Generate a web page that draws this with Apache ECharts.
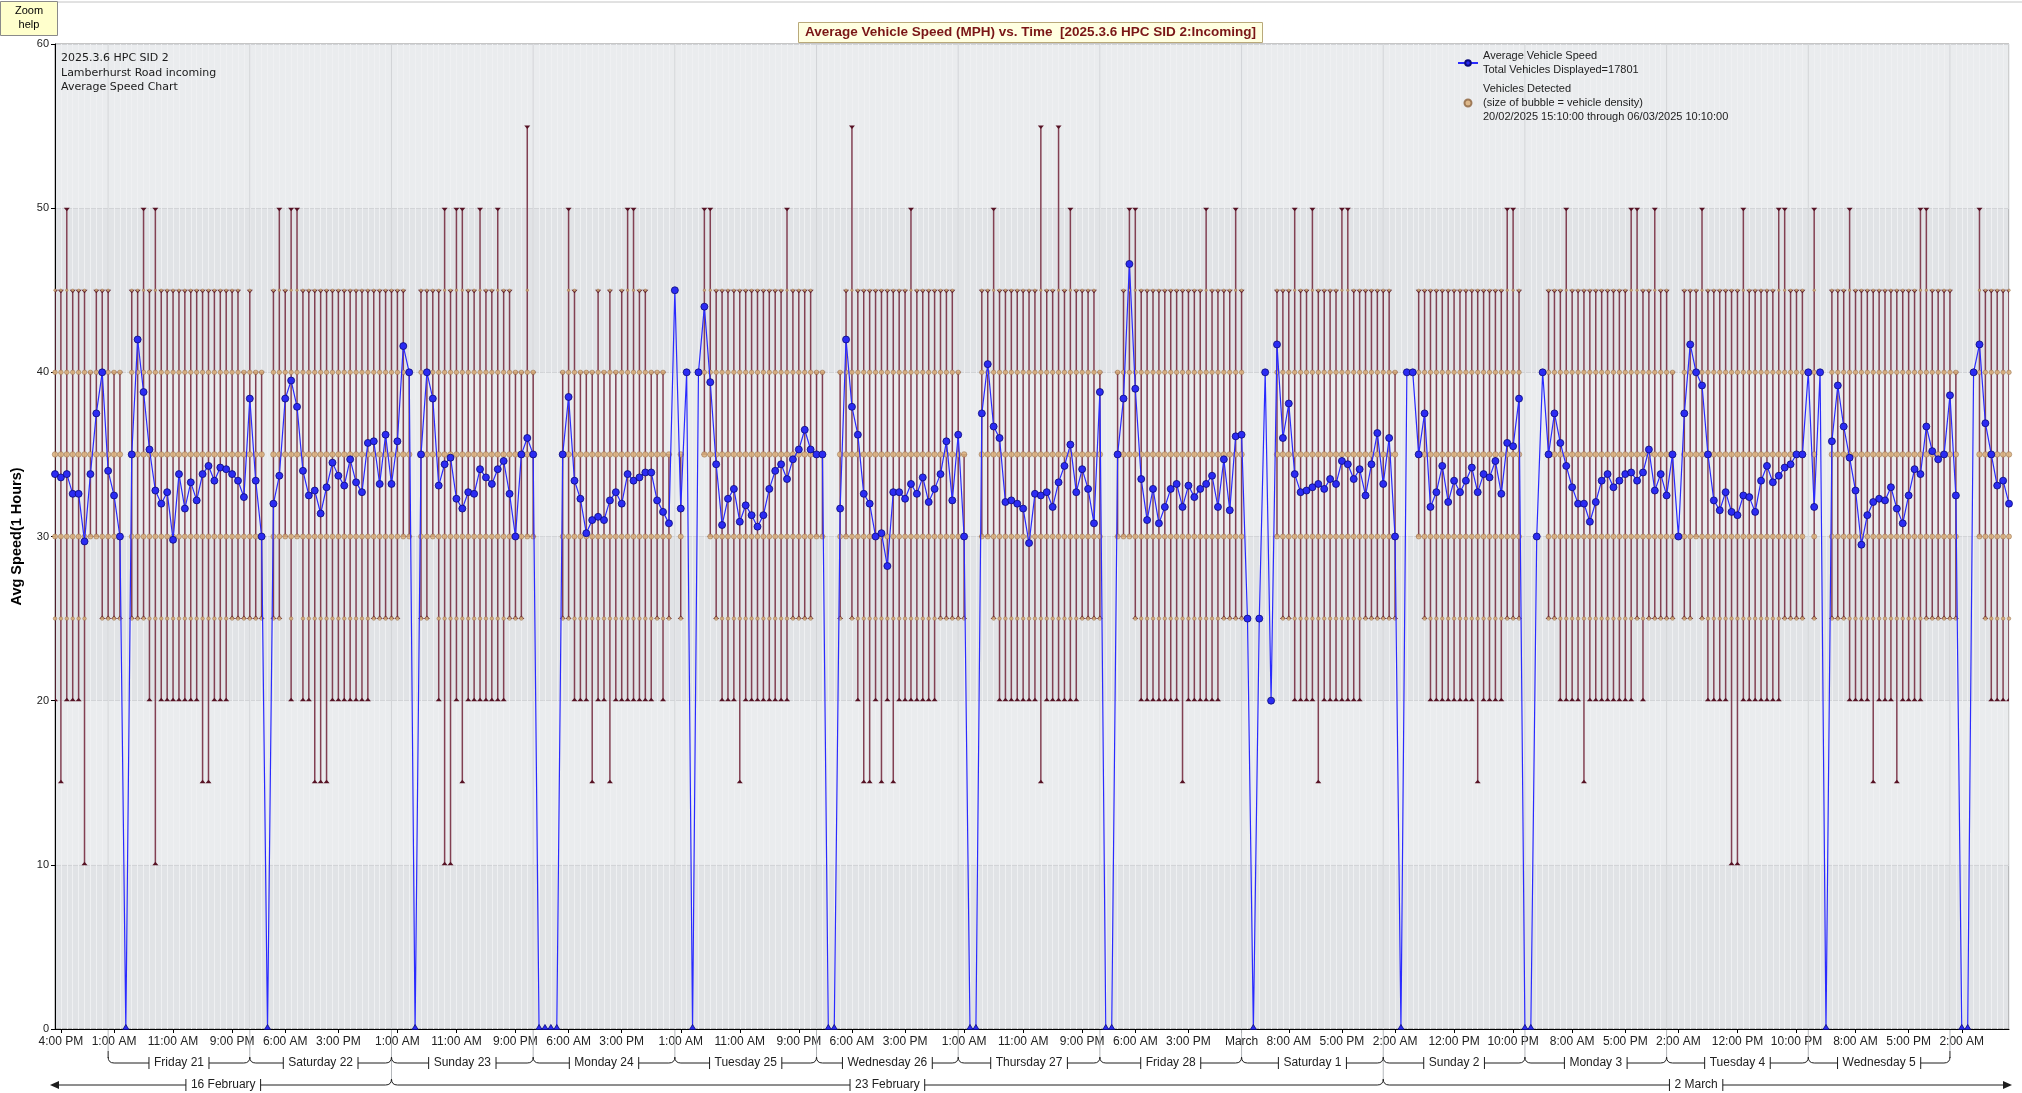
<!DOCTYPE html>
<html><head><meta charset="utf-8"><title>Average Vehicle Speed</title>
<script src="https://cdn.jsdelivr.net/npm/echarts@6.0.0/dist/echarts.min.js"></script>
<style>html,body{margin:0;padding:0;background:#fff;}#chart{width:2022px;height:1093px;}</style>
</head><body><div id="chart"></div>
<script>
// ---------- DATA (hourly buckets from 20/02/2025 15:00) ----------
const avgSpeed = [
33.8,33.6,33.8,32.6,32.6,29.7,33.8,37.5,40.0,34.0,32.5,30.0,0,35.0,42.0,38.8,35.3,32.8,32.0,32.7,
29.8,33.8,31.7,33.3,32.2,33.8,34.3,33.4,34.2,34.1,33.8,33.4,32.4,38.4,33.4,30.0,0,32.0,33.7,38.4,
39.5,37.9,34.0,32.5,32.8,31.4,33.0,34.5,33.7,33.1,34.7,33.3,32.7,35.7,35.8,33.2,36.2,33.2,35.8,41.6,
40.0,0,35.0,40.0,38.4,33.1,34.4,34.8,32.3,31.7,32.7,32.6,34.1,33.6,33.2,34.1,34.6,32.6,30.0,35.0,
36.0,35.0,0,0,0,0,35.0,38.5,33.4,32.3,30.2,31.0,31.2,31.0,32.2,32.7,32.0,33.8,33.4,33.6,
33.9,33.9,32.2,31.5,30.8,45.0,31.7,40.0,0,40.0,44.0,39.4,34.4,30.7,32.3,32.9,30.9,31.9,31.3,30.6,
31.3,32.9,34.0,34.4,33.5,34.7,35.3,36.5,35.3,35.0,35.0,0,0,31.7,42.0,37.9,36.2,32.6,32.0,30.0,
30.2,28.2,32.7,32.7,32.3,33.2,32.6,33.6,32.1,32.9,33.8,35.8,32.2,36.2,30.0,0,0,37.5,40.5,36.7,
36.0,32.1,32.2,32.0,31.7,29.6,32.6,32.5,32.7,31.8,33.3,34.3,35.6,32.7,34.1,32.9,30.8,38.8,0,0,
35.0,38.4,46.6,39.0,33.5,31.0,32.9,30.8,31.8,32.9,33.2,31.8,33.1,32.4,32.9,33.2,33.7,31.8,34.7,31.6,
36.1,36.2,25.0,0,25.0,40.0,20.0,41.7,36.0,38.1,33.8,32.7,32.8,33.0,33.2,32.9,33.5,33.2,34.6,34.4,
33.5,34.1,32.5,34.4,36.3,33.2,36.0,30.0,0,40.0,40.0,35.0,37.5,31.8,32.7,34.3,32.1,33.4,32.7,33.4,
34.2,32.7,33.8,33.6,34.6,32.6,35.7,35.5,38.4,0,0,30.0,40.0,35.0,37.5,35.7,34.3,33.0,32.0,32.0,
30.9,32.1,33.4,33.8,33.0,33.4,33.8,33.9,33.4,33.9,35.3,32.8,33.8,32.5,35.0,30.0,37.5,41.7,40.0,39.2,
35.0,32.2,31.6,32.7,31.5,31.3,32.5,32.4,31.5,33.4,34.3,33.3,33.7,34.2,34.4,35.0,35.0,40.0,31.8,40.0,
0,35.8,39.2,36.7,34.8,32.8,29.5,31.3,32.1,32.3,32.2,33.0,31.7,30.8,32.5,34.1,33.8,36.7,35.2,34.7,
35.0,38.6,32.5,0,0,40.0,41.7,36.9,35.0,33.1,33.4,32.0
];
const maxSpeed = [
45,45,50,45,45,45,40,45,45,
45,40,40,0,45,45,50,45,50,45,45,45,45,45,45,45,45,45,45,45,45,45,45,40,
45,40,40,0,45,50,45,50,50,45,45,45,45,45,45,45,45,45,45,45,45,45,45,45,
45,45,45,40,0,45,45,45,45,50,45,50,50,45,45,50,45,45,50,45,45,40,40,55,
40,0,0,0,0,40,50,45,40,40,40,45,40,45,40,45,50,50,45,45,40,40,40,35,
45,35,40,0,40,50,50,45,45,45,45,45,45,45,45,45,45,45,45,50,45,45,45,45,
40,40,0,0,40,45,55,45,45,45,45,45,45,45,45,45,50,45,45,45,45,45,45,45,
40,35,0,0,45,45,50,45,45,45,45,45,45,45,55,45,45,55,45,50,45,45,45,45,
40,0,0,40,45,50,50,45,45,45,45,45,45,45,45,45,45,45,50,45,45,45,45,50,
45,25,0,25,40,20,45,45,45,50,45,45,50,45,45,45,45,50,50,45,45,45,45,45,
45,45,40,0,40,40,45,45,45,45,45,45,45,45,45,45,45,45,45,45,45,50,50,45,
0,0,30,40,45,45,45,50,45,45,45,45,45,45,45,45,45,45,50,50,45,45,50,45,
45,40,30,45,45,45,50,45,45,45,45,45,45,50,45,45,45,45,45,50,50,45,45,45,
40,50,40,0,45,45,45,50,45,45,45,45,45,45,45,45,45,45,45,50,50,45,45,45,
45,40,0,0,40,50,45,45,45,45,45
];
const minSpeed = [
20,15,20,20,20,10,30,30,25,
25,25,25,0,25,25,25,20,10,20,20,20,20,20,20,20,15,15,20,20,20,25,25,25,
25,25,25,0,25,25,30,20,30,20,20,15,15,15,20,20,20,20,20,20,20,25,25,25,
25,25,30,30,0,25,25,30,20,10,10,20,15,20,20,20,20,20,20,20,25,25,25,30,
30,0,0,0,0,25,25,20,20,20,15,20,20,15,20,20,20,20,20,20,20,25,20,25,
45,25,40,0,40,35,30,25,20,20,20,15,20,20,20,20,20,20,20,20,25,25,25,25,
30,30,0,0,25,30,25,20,15,15,20,15,20,15,20,20,20,20,20,20,20,25,25,25,
25,25,0,0,30,30,25,20,20,20,20,20,20,20,15,20,20,20,20,20,20,25,25,25,
25,0,0,30,30,30,25,20,20,20,20,20,20,20,15,20,20,20,20,20,20,25,25,25,
25,25,0,25,40,20,30,25,25,20,20,20,20,15,20,20,20,20,20,20,20,25,25,25,
25,25,25,0,40,40,30,25,20,20,20,20,20,20,20,20,15,20,20,20,20,25,25,25,
0,0,30,40,25,25,20,20,20,20,15,20,20,20,20,20,20,20,20,25,20,25,25,25,
25,25,30,25,25,30,25,20,20,20,20,10,10,20,20,20,20,20,20,20,25,25,25,25,
40,25,40,0,25,25,25,20,20,20,20,15,20,20,20,15,20,20,20,20,25,25,25,25,
25,25,0,0,40,30,25,20,20,20,20
];
// speed levels at which detected vehicles are plotted, with bubble size (density)
const bubbleLevels = [25, 30, 35, 40, 45];
const bubbleSizes  = [3.5, 5, 5.5, 4.5, 2.5];

// x-axis tick labels (hour offset from 20/02/2025 15:00)
const tickHours  = [1,10,20,30,39,48,58,68,78,87,96,106,116,126,135,144,154,164,174,183,192,201,209,218,227,237,247,257,266,275,285,295,305,314,323];
const tickLabels = ['4:00 PM','1:00 AM','11:00 AM','9:00 PM','6:00 AM','3:00 PM','1:00 AM','11:00 AM','9:00 PM','6:00 AM','3:00 PM','1:00 AM','11:00 AM','9:00 PM','6:00 AM','3:00 PM','1:00 AM','11:00 AM','9:00 PM','6:00 AM','3:00 PM','March','8:00 AM','5:00 PM','2:00 AM','12:00 PM','10:00 PM','8:00 AM','5:00 PM','2:00 AM','12:00 PM','10:00 PM','8:00 AM','5:00 PM','2:00 AM'];
// day brackets (midnight hour offsets)
const dayStarts = [9,33,57,81,105,129,153,177,201,225,249,273,297];
const dayLabels = ['Friday 21','Saturday 22','Sunday 23','Monday 24','Tuesday 25','Wednesday 26','Thursday 27','Friday 28','Saturday 1','Sunday 2','Monday 3','Tuesday 4','Wednesday 5'];
// week brackets
const weekStarts = [-111, 57, 225];
const weekLabels = ['16 February','23 February','2 March'];

const infoLines = ['2025.3.6 HPC SID 2','Lamberhurst Road incoming','Average Speed Chart'];
const legendText = {
  'Average Vehicle Speed': 'Average Vehicle Speed\nTotal Vehicles Displayed=17801',
  'Vehicles Detected': 'Vehicles Detected\n(size of bubble = vehicle density)\n20/02/2025 15:10:00 through 06/03/2025 10:10:00'
};

// ---------- BUILD ----------
const lastHour = avgSpeed.length - 1;
const lineData = avgSpeed.map((v, i) => v > 0 ? [i, v] :
  {value: [i, v], symbol: 'triangle', symbolSize: [6, 5], symbolOffset: [0, -2]});
const barData = [];
const bubbleData = [];
avgSpeed.forEach((v, i) => {
  if (v > 0) {
    barData.push([i, minSpeed[i], maxSpeed[i]]);
    bubbleLevels.forEach(L => { if (L >= minSpeed[i] && L <= maxSpeed[i]) bubbleData.push([i, L]); });
  }
});

const FONT = '"Liberation Sans", Arial, sans-serif';
const mctx = document.createElement('canvas').getContext('2d');
function textW(t, font) { mctx.font = font; return mctx.measureText(t).width; }

function renderDecor(params, api) {
  const X = h => api.coord([h, 0])[0];
  const y0 = api.coord([0, 0])[1];
  const yTop = api.coord([0, 60])[1];
  const xMin = X(0), xMax = X(lastHour);
  const dark = '#1e1e1e', light = '#b4b7bb', faint = '#d2d4d7';
  const yD = y0 + 34, yW = y0 + 56;
  const lab = '12px ' + FONT;
  const kids = [];
  const ln = (x1, y1, x2, y2, c) => kids.push({type: 'line', shape: {x1, y1, x2, y2}, style: {stroke: c, lineWidth: 1}});
  const crv = (x1, y1, x2, y2, cx, cy) => kids.push({type: 'bezierCurve', shape: {x1, y1, x2, y2, cpx1: cx, cpy1: cy}, style: {stroke: dark, lineWidth: 1, fill: null}});
  const labelled = (xa, xb, y, label) => {
    const cx = (xa + xb) / 2, w = textW(label, lab) / 2 + 5;
    ln(xa, y, cx - w, y, dark); ln(cx + w, y, xb, y, dark);
    ln(cx - w, y - 6, cx - w, y + 6, dark); ln(cx + w, y - 6, cx + w, y + 6, dark);
    kids.push({type: 'text', style: {x: cx, y: y, text: label, fill: '#222', font: lab, align: 'center', verticalAlign: 'middle'}});
  };
  // midnight lines
  const bounds = dayStarts.concat([dayStarts[dayStarts.length - 1] + 24]);
  bounds.forEach((h, k) => {
    const x = X(h);
    const isWeek = weekStarts.indexOf(h) >= 0;
    const edge = (k === 0 || k === bounds.length - 1);
    ln(x, yTop, x, y0, faint);
    ln(x, y0 + 1, x, isWeek ? yW - 6 : (edge ? yD - 12 : yD - 6), light);
    if (edge) ln(x, yD - 12, x, yD - 5, dark);
  });
  // day brackets
  dayStarts.forEach((s, k) => {
    const x1 = X(s), x2 = X(s + 24);
    crv(x1, yD - 6, x1 + 6, yD, x1, yD);
    crv(x2 - 6, yD, x2, yD - 6, x2, yD);
    labelled(x1 + 6, x2 - 6, yD, dayLabels[k]);
  });
  // week brackets
  weekStarts.forEach((s, k) => {
    const e = s + 168;
    let xa, xb, la, lb;
    if (s < 0) {
      xa = xMin - 5; la = xMin;
      kids.push({type: 'polygon', shape: {points: [[xa, yW], [xa + 9, yW - 4], [xa + 9, yW + 4]]}, style: {fill: dark}});
      xa += 9;
    } else {
      la = X(s); crv(la, yW - 6, la + 6, yW, la, yW); xa = la + 6;
    }
    if (e > lastHour) {
      xb = xMax + 3; lb = xMax;
      kids.push({type: 'polygon', shape: {points: [[xb, yW], [xb - 9, yW - 4], [xb - 9, yW + 4]]}, style: {fill: dark}});
      xb -= 9;
    } else {
      lb = X(e); crv(lb - 6, yW, lb, yW - 6, lb, yW); xb = lb - 6;
    }
    const cx = (la + lb) / 2, w = textW(weekLabels[k], lab) / 2 + 5;
    ln(xa, yW, cx - w, yW, dark); ln(cx + w, yW, xb, yW, dark);
    ln(cx - w, yW - 6, cx - w, yW + 6, dark); ln(cx + w, yW - 6, cx + w, yW + 6, dark);
    kids.push({type: 'text', style: {x: cx, y: yW, text: weekLabels[k], fill: '#222', font: lab, align: 'center', verticalAlign: 'middle'}});
  });
  return {type: 'group', children: kids};
}

function renderRange(params, api) {
  const b = api.coord([api.value(0), api.value(1)]);
  const t = api.coord([api.value(0), api.value(2)]);
  const x = b[0];
  const c = '#561224';
  return {type: 'group', children: [
    {type: 'line', shape: {x1: x, y1: b[1], x2: x, y2: t[1]}, style: {stroke: '#752c40', lineWidth: 1.5, opacity: 0.9}},
    {type: 'polygon', shape: {points: [[x - 3, b[1] + 0.5], [x + 3, b[1] + 0.5], [x, b[1] - 3]]}, style: {fill: c}},
    {type: 'polygon', shape: {points: [[x - 3, t[1] - 0.5], [x + 3, t[1] - 0.5], [x, t[1] + 3]]}, style: {fill: c}}
  ]};
}

const chart = echarts.init(document.getElementById('chart'), null, {width: 2022, height: 1093});
chart.setOption({
  animation: false,
  backgroundColor: '#ffffff',
  textStyle: {fontFamily: FONT},
  title: {
    text: 'Average Vehicle Speed (MPH) vs. Time  [2025.3.6 HPC SID 2:Incoming]',
    left: 798, top: 22, padding: [3, 7],
    backgroundColor: '#ffffe1', borderColor: '#b9a97a', borderWidth: 1,
    textStyle: {fontSize: 13.5, lineHeight: 15, fontWeight: 'bold', color: '#7a1616', fontFamily: FONT}
  },
  legend: {
    show: true, orient: 'vertical', left: 1457, top: 49, itemGap: 5, padding: 0,
    itemWidth: 20, itemHeight: 7, selectedMode: false,
    data: [{name: 'Average Vehicle Speed'}, {name: 'Vehicles Detected', icon: 'circle'}],
    formatter: n => legendText[n],
    textStyle: {fontSize: 11, lineHeight: 14, color: '#222', fontFamily: FONT}
  },
  grid: {left: 55, right: 13, top: 44, bottom: 64, show: true, backgroundColor: '#e1e3e6', borderColor: '#8c8c8c', borderWidth: 1, containLabel: false, outerBoundsMode: 'none'},
  xAxis: [{
    type: 'value', min: 0, max: lastHour, position: 'bottom',
    axisLine: {show: true, onZero: false, lineStyle: {color: '#000', width: 1}},
    axisTick: {show: true, customValues: tickHours, length: 4, lineStyle: {color: '#000'}},
    axisLabel: {show: true, customValues: tickHours, margin: 7, fontSize: 12, color: '#222', fontFamily: FONT,
      formatter: v => { const k = tickHours.indexOf(Math.round(v)); return k >= 0 ? tickLabels[k] : ''; }},
    splitLine: {show: false}
  }, {
    type: 'value', min: 0, max: lastHour, interval: 1, position: 'top',
    axisLine: {show: false}, axisTick: {show: false}, axisLabel: {show: false},
    splitLine: {show: true, lineStyle: {color: '#eff0f2', width: 1}}
  }],
  yAxis: {
    type: 'value', min: 0, max: 60, interval: 10,
    name: 'Avg Speed(1 Hours)', nameLocation: 'middle', nameGap: 31,
    nameTextStyle: {fontSize: 14.5, fontWeight: 'bold', color: '#000', fontFamily: FONT},
    axisLine: {show: true, lineStyle: {color: '#000'}},
    axisTick: {show: true, length: 4, lineStyle: {color: '#000'}},
    axisLabel: {fontSize: 11, color: '#222', margin: 6, fontFamily: FONT},
    splitLine: {show: true, lineStyle: {color: '#d2d4d7'}},
    splitArea: {show: true, areaStyle: {color: ['rgba(255,255,255,0)', 'rgba(255,255,255,0.32)']}}
  },
  graphic: [
    {type: 'line', z: 100, shape: {x1: 58, y1: 2, x2: 2022, y2: 2}, style: {stroke: '#c4c4c4', lineWidth: 1}},
    {type: 'rect', z: 100, shape: {x: 0.5, y: 1.5, width: 57, height: 34}, style: {fill: '#ffffcc', stroke: '#8a8a8a', lineWidth: 1}},
    {type: 'text', z: 101, x: 29, y: 4, style: {text: 'Zoom\nhelp', font: '11px ' + FONT, fill: '#000', align: 'center', lineHeight: 14}},
    {type: 'text', z: 101, x: 61, y: 51, style: {text: infoLines.join('\n'), font: '11px "DejaVu Sans", sans-serif', fill: '#1a1a1a', lineHeight: 14.5}}
  ],
  series: [
    {type: 'custom', name: 'decor', silent: true, clip: false, z: 1, data: [[0, 0]], renderItem: renderDecor, xAxisIndex: 0},
    {type: 'custom', name: 'range', silent: true, clip: true, z: 2, data: barData, renderItem: renderRange, xAxisIndex: 0, encode: {x: 0, y: [1, 2]}},
    {type: 'scatter', name: 'Vehicles Detected', z: 3, data: bubbleData, xAxisIndex: 0,
      symbolSize: v => bubbleSizes[bubbleLevels.indexOf(v[1])],
      itemStyle: {color: '#dcb27f', borderColor: '#96704c', borderWidth: 0.6, opacity: 0.9}, silent: true},
    {type: 'line', name: 'Average Vehicle Speed', z: 4, data: lineData, xAxisIndex: 0,
      symbol: 'circle', symbolSize: 7, showAllSymbol: true, clip: true,
      lineStyle: {color: '#2a2aff', width: 1.2},
      itemStyle: {color: '#2b2bf2', borderColor: '#0a0a7a', borderWidth: 0.8}, silent: true}
  ]
});
</script></body></html>
